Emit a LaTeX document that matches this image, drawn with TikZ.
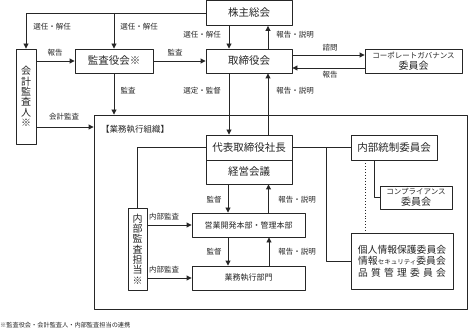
\documentclass[tikz,border=0pt]{standalone}
\usepackage{fontspec}
\setmainfont{Noto Sans CJK JP}
\usetikzlibrary{arrows.meta}

\begin{document}
\begin{tikzpicture}[
  x=1pt,
  y=-1pt,
  line join=round,
  every node/.style={text=black!85},
  box/.style={
    draw=black!85,
    line width=0.9pt,
    fill=white,
    inner sep=1pt,
    font=\fontsize{10.5}{12}\selectfont
  },
  vbox/.style={box,align=center,font=\fontsize{10}{10.3}\selectfont},
  lbl/.style={inner sep=0pt,font=\fontsize{7.5}{8}\selectfont},
  conn/.style={draw=black!85,line width=0.9pt},
  arr/.style={conn,-{Triangle[length=5pt,width=5pt]}}
]
  \useasboundingbox (0,0) rectangle (471,331);

  % 業務執行組織の枠
  \node[conn,minimum width=373,minimum height=194,inner sep=0pt]
    (soshiki) at (280.5,212) {};
  \node[lbl,font=\fontsize{8.5}{9}\selectfont]
    (soshikimei) at (135,129) {【業務執行組織】};

  % 上段
  \node[box,minimum width=86,minimum height=25]
    (kabunushi) at (249,13) {株主総会};
  \node[box,minimum width=86,minimum height=24]
    (torishimari) at (249,61) {取締役会};
  \node[box,minimum width=78,minimum height=24]
    (kansayaku) at (114,61) {監査役会※};
  \node[vbox,minimum width=20,minimum height=95]
    (kaikei) at (26,96.5) {会\\計\\監\\査\\人\\※};
  \node[box,minimum width=97,minimum height=24,
        align=center,font=\fontsize{10}{11.5}\selectfont]
    (cg) at (413.5,61)
    {{\fontsize{7.5}{8}\selectfont コーポレートガバナンス}\\委員会};

  % 組織内
  \node[box,minimum width=86,minimum height=25]
    (daihyo) at (249,147.5) {代表取締役社長};
  \node[box,minimum width=86,minimum height=24]
    (keiei) at (249,172) {経営会議};
  \node[box,minimum width=86,minimum height=25]
    (naibutosei) at (394,147.5) {内部統制委員会};
  \node[box,minimum width=72,minimum height=23,
        align=center,font=\fontsize{10}{11}\selectfont]
    (compliance) at (416,197.5)
    {{\fontsize{7.5}{8}\selectfont コンプライアンス}\\委員会};
  \node[box,minimum width=102,minimum height=56,
        align=center,font=\fontsize{9.8}{11.5}\selectfont]
    (iinkai) at (402,261)
    {個人情報保護委員会\\
     情報{\fontsize{6.5}{7}\selectfont セキュリティ}委員会\\
     \makebox[88pt][l]{品\hfill 質\hfill 管\hfill 理\hfill 委\hfill 員\hfill 会}};
  \node[box,minimum width=113,minimum height=24,font=\fontsize{8}{9}\selectfont]
    (eigyo) at (248.5,225) {営業開発本部・管理本部};
  \node[box,minimum width=113,minimum height=24,font=\fontsize{8}{9}\selectfont]
    (gyomu) at (248.5,278) {業務執行部門};
  \node[vbox,minimum width=19,minimum height=82]
    (naibukansa) at (137.5,249) {内\\部\\監\\査\\担\\当\\※};

  % 株主総会から
  \draw[arr]
    (kabunushi.west) -| (kaikei.north);
  \draw[arr]
    (kabunushi.west -| kansayaku.north) -- (kansayaku.north);
  \draw[arr]
    ([xshift=-20pt]kabunushi.south) -- ([xshift=-20pt]torishimari.north);
  \draw[arr]
    ([xshift=19pt]torishimari.north) -- ([xshift=19pt]kabunushi.south);

  % 監査の流れ
  \draw[arr]
    (kansayaku.west -| kaikei.east) -- (kansayaku.west);
  \draw[arr]
    (kansayaku.east) -- (torishimari.west);
  \draw[arr]
    (kansayaku.south) -- (kansayaku.south |- soshiki.north);
  \coordinate (kaikeide) at ([yshift=-30.5pt]kaikei.east);
  \draw[arr]
    (kaikeide) -- (kaikeide -| soshiki.west);

  % 諮問・報告
  \draw[arr]
    ([yshift=6pt]torishimari.east) -- ([yshift=6pt]cg.west);
  \draw[arr]
    ([yshift=-7pt]cg.west) -- ([yshift=-7pt]torishimari.east);

  % 取締役会と社長
  \draw[arr]
    ([xshift=-20pt]torishimari.south) -- ([xshift=-20pt]daihyo.north);
  \draw[arr]
    ([xshift=19pt]daihyo.north) -- ([xshift=19pt]torishimari.south);

  % 社長から横へ
  \draw[conn]
    (daihyo.west) -| (naibukansa.north);
  \draw[conn]
    (daihyo.east) -- (naibutosei.west);
  \coordinate (bunki) at ([xshift=34pt]daihyo.east);
  \draw[conn]
    (bunki) |- (iinkai.west);
  \draw[conn]
    ([xshift=-20pt]naibutosei.south) |- (compliance.west);
  \draw[conn,dotted]
    ([xshift=-29pt]naibutosei.south)
    -- ([xshift=-29pt]naibutosei.south |- iinkai.north);

  % 監督・報告
  \draw[arr]
    ([xshift=-21pt]keiei.south) -- ([xshift=-21pt]keiei.south |- eigyo.north);
  \draw[arr]
    ([xshift=20pt]eigyo.north) -- ([xshift=20pt]eigyo.north |- keiei.south);
  \draw[arr]
    ([xshift=-20.5pt]eigyo.south) -- ([xshift=-20.5pt]gyomu.north);
  \draw[arr]
    ([xshift=20.5pt]gyomu.north) -- ([xshift=20.5pt]eigyo.south);

  % 内部監査
  \draw[arr]
    (eigyo.west -| naibukansa.east) -- (eigyo.west);
  \draw[arr]
    (gyomu.west -| naibukansa.east) -- (gyomu.west);

  % ラベル
  \node[lbl] (sennin1) at (52,27) {選任・解任};
  \node[lbl] (sennin2) at (139,27) {選任・解任};
  \node[lbl] (sennin3) at (202,35) {選任・解任};
  \node[lbl] (hokoku1) at (295,35) {報告・説明};
  \node[lbl] (hokoku2) at (55,53) {報告};
  \node[lbl] (kansa1) at (175,53) {監査};
  \node[lbl] (shimon) at (330,48) {諮問};
  \node[lbl] (hokoku3) at (330,75) {報告};
  \node[lbl] (kansa2) at (128,91) {監査};
  \node[lbl] (kaikeikansa) at (64,117) {会計監査};
  \node[lbl] (sentei) at (202,91) {選定・監督};
  \node[lbl] (hokoku4) at (295,91) {報告・説明};
  \node[lbl] (kantoku1) at (214,200) {監督};
  \node[lbl] (hokoku5) at (297,200) {報告・説明};
  \node[lbl] (kantoku2) at (214,252) {監督};
  \node[lbl] (hokoku6) at (297,252) {報告・説明};
  \node[lbl] (naibu1) at (164,217) {内部監査};
  \node[lbl] (naibu2) at (164,270) {内部監査};

  % 注記
  \node[lbl,anchor=west,font=\fontsize{6.2}{7}\selectfont]
    (chuki) at (0,325) {※監査役会・会計監査人・内部監査担当の連携};
\end{tikzpicture}
\end{document}
